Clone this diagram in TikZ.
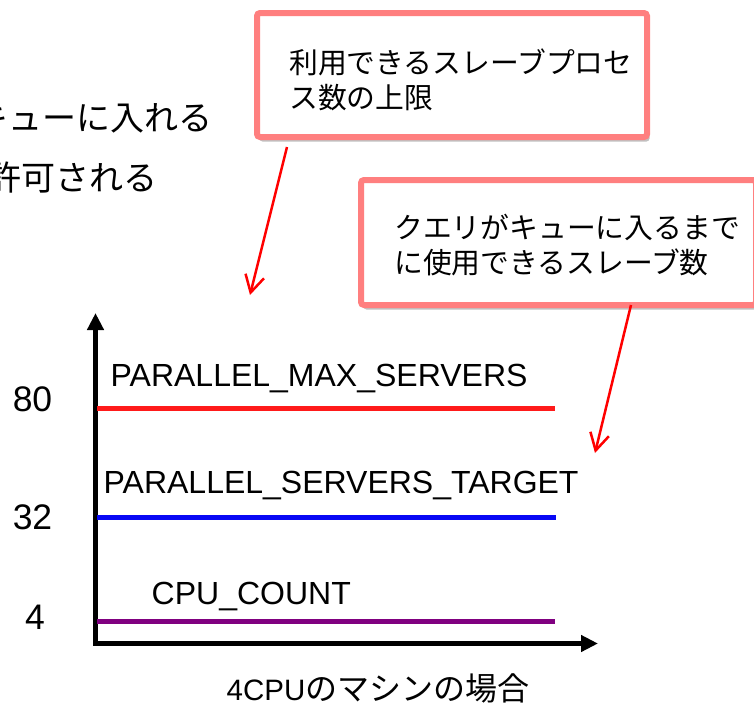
\documentclass[tikz,border=0pt]{standalone}
\usepackage{fontspec}
\setmainfont{Liberation Sans}
\newfontfamily\jfont{Noto Sans CJK JP}
\usetikzlibrary{arrows.meta,shadows}

\definecolor{calloutpink}{RGB}{255,127,127}
\definecolor{maxred}{RGB}{255,26,26}
\definecolor{targetblue}{RGB}{8,8,245}
\definecolor{cpupurple}{RGB}{128,0,128}

\begin{document}
\begin{tikzpicture}[x=1pt,y=-1pt,
  callout/.style={draw=calloutpink, line width=6pt, rounded corners=3pt, fill=white,
    inner sep=0pt,
    drop shadow={shadow xshift=2.5pt, shadow yshift=-4.5pt, opacity=0.35, fill=black!70}},
  calltext/.style={inner sep=0pt, anchor=west, align=left,
    font={\jfont\fontsize{28.8pt}{35pt}\selectfont}},
  prosetext/.style={inner sep=0pt, anchor=east, font={\jfont\fontsize{34pt}{40pt}\selectfont}},
  pointer/.style={draw=red, line width=2.5pt, -{Straight Barb[length=17pt,width=19pt]}},
  axis/.style={draw=black, line width=4.5pt, line join=miter,
    {Triangle[length=17pt,width=16pt]}-{Triangle[length=17pt,width=16pt]}},
  level/.style={line width=5pt},
  levelname/.style={inner sep=0pt, anchor=base west, font={\fontsize{32pt}{36pt}\selectfont}},
  levelvalue/.style={inner sep=0pt, font={\fontsize{35.5pt}{40pt}\selectfont}}
]
\useasboundingbox (0,0) rectangle (754,704);

% running text at the upper left
\node[prosetext] (prose1) at (213,118) {キューに入れる};
\node[prosetext] (prose2) at (158,178) {許可される};

% callouts
\node[callout, minimum width=390pt, minimum height=124pt] (maxbox) at (452,75) {};
\node[calltext] (maxtext) at (289,79.5) {利用できるスレーブプロセ\\ス数の上限};

\node[callout, minimum width=395pt, minimum height=125pt] (targetbox) at (558.5,242.5) {};
\node[calltext] (targettext) at (394,245) {クエリがキューに入るまで\\に使用できるスレーブ数};

% pointers from the callouts
\coordinate (maxfrom) at (287,147);
\coordinate (maxto) at (250,295);
\coordinate (targetfrom) at (631,305);
\coordinate (targetto) at (595,453);
\draw[pointer] (maxfrom) -- (maxto);
\draw[pointer] (targetfrom) -- (targetto);

% axes
\coordinate (ytip) at (95.5,313);
\coordinate (origin) at (95.5,643.5);
\coordinate (xtip) at (598,643.5);
\draw[axis] (ytip) -- (origin) -- (xtip);

% parameter levels
\coordinate (maxL) at (97,408);   \coordinate (maxR) at (555,408);
\coordinate (tgtL) at (97,517);   \coordinate (tgtR) at (556,517);
\coordinate (cpuL) at (97,621);   \coordinate (cpuR) at (555,621);
\draw[level, maxred] (maxL) -- (maxR);
\draw[level, targetblue] (tgtL) -- (tgtR);
\draw[level, cpupurple] (cpuL) -- (cpuR);

\node[levelname] (maxname) at (110.5,386) {PARALLEL\_MAX\_SERVERS};
\node[levelname] (tgtname) at (103.5,493) {PARALLEL\_SERVERS\_TARGET};
\node[levelname] (cpuname) at (151.5,604) {CPU\_COUNT};

\node[levelvalue] (maxval) at (32.5,399.5) {80};
\node[levelvalue] (tgtval) at (32.5,517.5) {32};
\node[levelvalue] (cpuval) at (35,617.5) {4};

% axis caption
\node[inner sep=0pt, font={\fontsize{29.5pt}{36pt}\selectfont}] (caption) at (378,688)
  {4CPU{\jfont\fontsize{32pt}{38pt}\selectfont のマシンの場合}};
\end{tikzpicture}
\end{document}
